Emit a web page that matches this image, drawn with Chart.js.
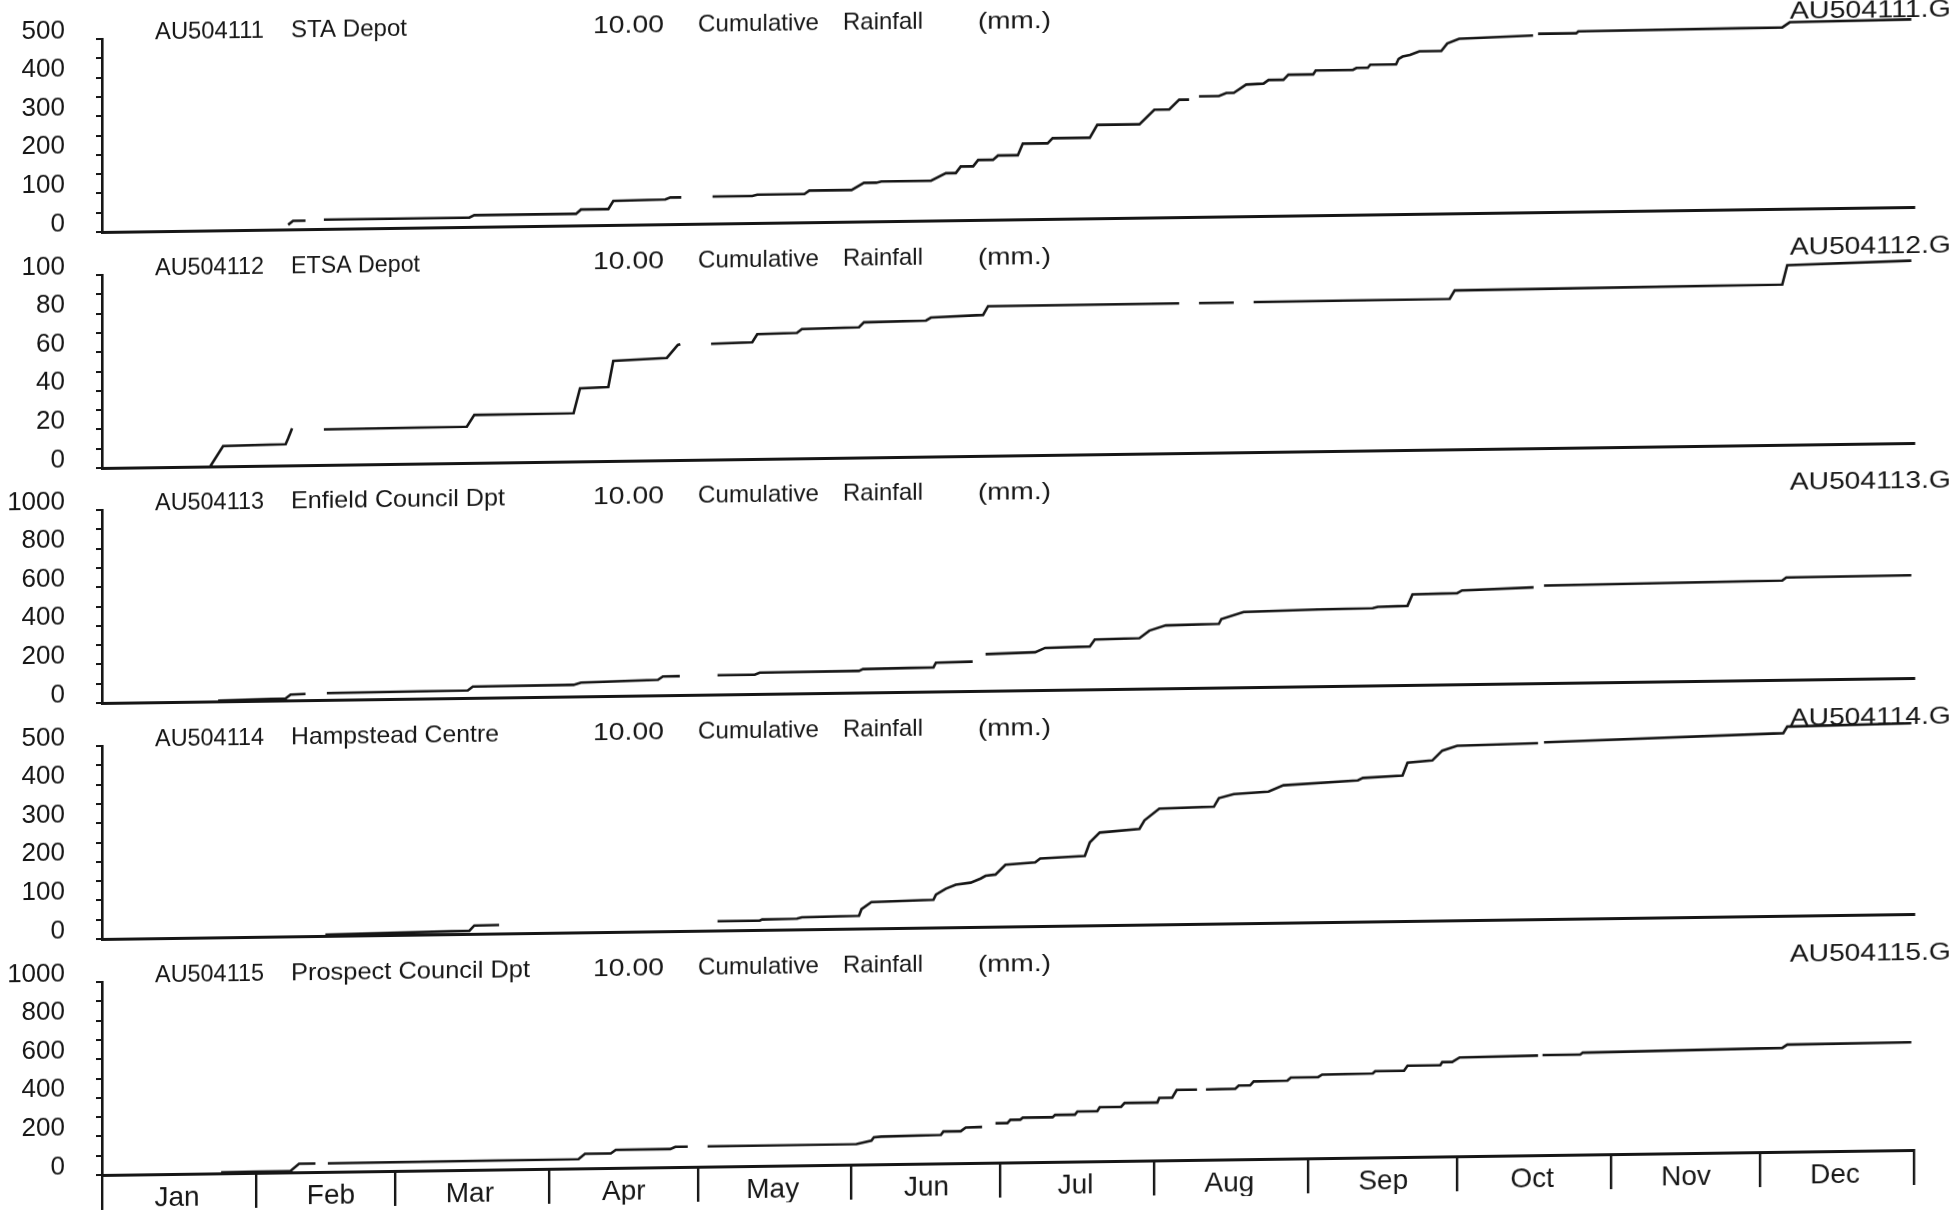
<!DOCTYPE html>
<html><head><meta charset="utf-8">
<script src="https://cdn.jsdelivr.net/npm/chart.js@4.4.1/dist/chart.umd.min.js"></script>
<style>
html,body{margin:0;padding:0;background:#fff;overflow:hidden;width:1955px;height:1212px}
#wrap{position:absolute;left:0;top:0;width:1955px;height:1212px;transform:skewY(-0.79deg);transform-origin:100px 0}
canvas{position:absolute;left:0}
</style></head><body><div id="wrap"></div>
<script>
// ---------- data ----------
const months = ['Jan','Feb','Mar','Apr','May','Jun','Jul','Aug','Sep','Oct','Nov','Dec'];
const monthStartDays = [0,31,59,90,120,151,181,212,243,273,304,334,365];
const stationIds = ['AU504111','AU504112','AU504113','AU504114','AU504115'];
const stationNames = ['STA Depot','ETSA Depot','Enfield Council Dpt','Hampstead Centre','Prospect Council Dpt'];
const yMaxes = [500,100,1000,500,1000];
const headerScale = '10.00';
const headerWords = ['Cumulative','Rainfall','(mm.)'];

// [day of year, cumulative mm]; null = missing record
const staDepot = [[37.5,12],[38.5,22],[41,22],[42,null],[44.7,24],[74,24],[75,30],[95.5,30],[96.5,41],[102,41],[103,62],[113.5,64],[114.5,69],[116.7,69],[120,null],[123,70],[131,70],[132,73],[141.5,73],[142.5,82],[151,82],[153.5,100],[156,100],[157,103],[167,103],[170,122],[172,122],[173,139],[175.5,139],[176.5,155],[179.5,155],[180.5,166],[184.5,166],[185.5,196],[190.5,196],[191.5,209],[199,209],[200.5,242],[209,242],[212,279],[215,279],[217,304],[219,304],[220,null],[221,312],[225,312],[226.5,320],[228,320],[230.5,341],[234,343],[235,352],[238,352],[239,365],[244,365],[244.5,375],[252,375],[252.7,380],[255,380],[255.5,388],[260.7,388],[261.2,402],[262,408],[263.5,412],[265.4,421],[269.8,421],[271,440],[273.4,452],[288.3,458],[288.8,null],[289.3,462],[297,462],[297.4,467],[338.5,470],[340,483],[364.5,486]];
const etsaDepot = [[21.8,0],[24.4,10.5],[37,11],[37.5,14],[38.3,19.2],[41,null],[44.7,18.4],[73.5,18.8],[75,24.8],[95,25],[96.3,37.8],[102,38.3],[103,51.8],[113.8,53],[116,59.6],[116.5,60],[119,null],[122.7,60],[131,60.5],[132,64.6],[140,65],[141,67],[152.5,67.5],[153.5,70],[166,70.5],[167,72],[177.5,73],[178.5,77.5],[217,77.6],[219,null],[221,77.6],[228,77.6],[230,null],[232,77.7],[271.5,78],[272.5,82.3],[338.5,83],[339.5,93],[364.5,94.5]];
const enfieldCouncil = [[23.4,3],[37,10],[38,30],[41,32],[43,null],[45.3,35],[73.7,39],[74.7,58],[95,60],[96.5,71],[112,80],[113,97],[116.4,98],[120,null],[124,100],[131.5,100],[132.5,110],[152.5,112],[153.3,121],[167.5,125],[168,149],[175.4,152],[177,null],[178,190],[188,196],[190,218],[199,222],[200,258],[209,262],[211,300],[214.3,326],[225,330],[225.5,355],[230,390],[245,398],[256,400],[257,407],[263,410],[264,469],[273,472],[274,486],[288.4,497],[289.5,null],[290.5,505],[338.5,514],[339.3,530],[364.5,532]];
const hampsteadCentre = [[45,3],[74,8],[75,21.5],[80,22],[90,null],[124,24],[132.5,24],[133,27],[140,28],[141,31],[152.5,33],[153,50],[155,68],[167.5,72],[168,85],[170,100],[172,110],[175,115],[177,125],[178,132],[180,135],[182,160],[188,165],[189,175],[198,180],[199,215],[201,240],[209,248],[210,270],[213,300],[224,303],[225,325],[228,335],[235,340],[238,356],[253,366],[254,372],[262,377],[263,410],[268,415],[270,440],[273,452],[289.3,456],[289.8,null],[290.5,458],[338.7,473],[339.5,490],[364.5,494]];
const prospectCouncil = [[24,5],[38,8],[39.7,44],[43,44],[44,null],[45.5,44],[96,48],[97.3,75],[102.5,75],[103.5,93],[114.5,94],[115.5,105],[118,105],[120,null],[122,105],[152,106],[155,123],[155.5,140],[157,143],[169,148],[169.5,165],[173,165],[174,184],[177.3,186],[178.5,null],[180,204],[182.4,204],[183,221],[185,221],[185.5,231],[191.5,231],[192,243],[196,243],[196.5,259],[200.5,259],[201,280],[205.3,280],[206,300],[212.6,300],[213,324],[215.6,324],[216.5,364],[220.6,364],[221.5,null],[222.4,364],[228.3,366],[229,382],[231.3,382],[232,402],[238.8,404],[239.5,420],[245,420],[245.8,433],[256,435],[256.5,447],[262.3,447],[263,473],[269.6,473],[270,489],[272,489],[273.5,512],[289.3,516],[289.8,null],[290.2,518],[297.8,518],[298.3,528],[338.5,538],[339.5,555],[364.5,558]];
const seriesList = [staDepot, etsaDepot, enfieldCouncil, hampsteadCentre, prospectCouncil];

// ---------- layout ----------
const INK = '#161616';
const FONT = '"Liberation Sans", Arial, sans-serif';
const panelTops = [0,236,471,707,943];
const wrap = document.getElementById('wrap');

function headerPlugin(i){
  return {
    id: 'hdr' + i,
    afterDraw(chart){
      const {ctx, chartArea} = chart;
      const b = chartArea.bottom;
      const nameEnd = [407,420,505,499,530][i];
      const items = [
        [stationIds[i], 155, 109, -199],
        [stationNames[i], 291, nameEnd - 291, -199],
        [headerScale, 593, 71, -199],
        [headerWords[0], 698, 121, -199],
        [headerWords[1], 843, 80, -199],
        [headerWords[2], 978, 73, -198],
        [stationIds[i] + '.G', 1790, 161, -197]
      ];
      ctx.save();
      ctx.fillStyle = INK;
      ctx.textBaseline = 'middle';
      ctx.textAlign = 'left';
      ctx.font = '24px ' + FONT;
      for (const [t, x, w, dy] of items) {
        const m = ctx.measureText(t).width;
        ctx.save();
        ctx.translate(x, b + dy);
        ctx.scale(w / m, 1);
        ctx.fillText(t, 0, 0);
        ctx.restore();
      }
      ctx.restore();
    }
  };
}

seriesList.forEach((series, i) => {
  const isBottom = i === 4;
  const h = isBottom ? 269 : 240;
  const cv = document.createElement('canvas');
  cv.width = 1955; cv.height = h;
  cv.style.top = panelTops[i] + 'px';
  cv.style.width = '1955px'; cv.style.height = h + 'px';
  wrap.appendChild(cv);
  const yMax = yMaxes[i];
  new Chart(cv.getContext('2d'), {
    type: 'line',
    data: {
      datasets: [{
        data: series.map(([d, v]) => ({x: d, y: v})),
        borderColor: INK,
        borderWidth: 2.6,
        pointRadius: 0,
        tension: 0,
        fill: false,
        spanGaps: false
      }]
    },
    options: {
      responsive: false,
      animation: false,
      devicePixelRatio: 1,
      events: [],
      layout: {autoPadding: false, padding: {top: 39, left: 0, right: 41, bottom: isBottom ? 0 : 8}},
      plugins: {legend: {display: false}, tooltip: {enabled: false}, title: {display: false}},
      scales: {
        x: {
          type: 'linear', min: 0, max: 365, position: 'bottom',
          afterBuildTicks: s => { s.ticks = monthStartDays.map(v => ({value: v})); },
          afterFit: s => { s.height = isBottom ? 37 : 0; s.paddingLeft = 0; s.paddingRight = 0; s.paddingTop = 0; s.paddingBottom = 0; },
          grid: {display: isBottom, drawOnChartArea: false, drawTicks: true, tickLength: 35, color: INK, lineWidth: 2.4},
          border: {display: true, color: INK, width: 3},
          ticks: {
            display: isBottom, autoSkip: false, maxRotation: 0, minRotation: 0,
            labelOffset: 75, padding: -28, color: INK,
            font: {family: FONT, size: 28},
            callback: (v, idx) => months[idx] ?? ''
          }
        },
        y: {
          type: 'linear', min: 0, max: yMax, position: 'left',
          afterFit: s => { s.width = 102; s.paddingTop = 0; s.paddingBottom = 0; s.paddingLeft = 0; s.paddingRight = 0; },
          grid: {display: true, drawOnChartArea: false, drawTicks: true, tickLength: 6, color: INK, lineWidth: 2},
          border: {display: true, color: INK, width: 2.6},
          ticks: {
            stepSize: yMax / 10, autoSkip: false, padding: 31, labelOffset: -8.5, color: INK,
            font: {family: FONT, size: 26},
            callback: v => (Math.round(v / (yMax / 5) * 1000) % 1000 === 0) ? String(v) : ''
          }
        }
      }
    },
    plugins: [headerPlugin(i)]
  });
});
</script>
</body></html>
